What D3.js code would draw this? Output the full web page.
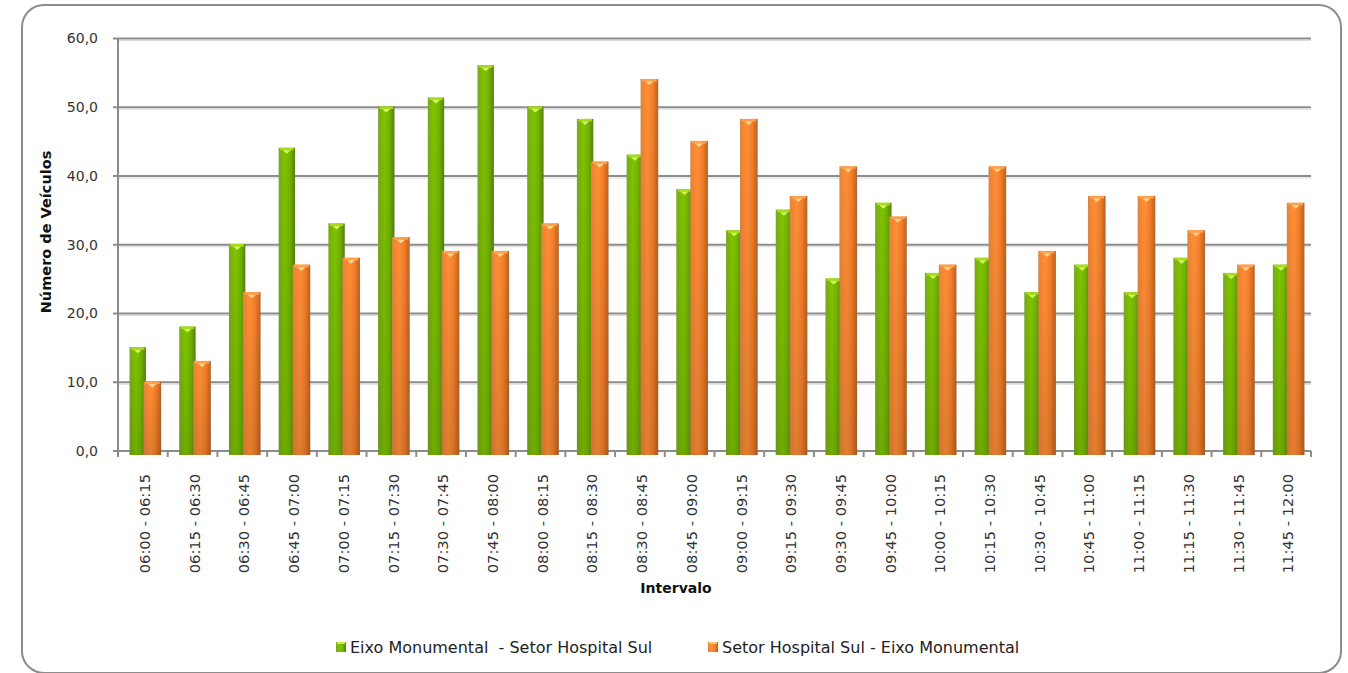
<!DOCTYPE html>
<html><head><meta charset="utf-8">
<script src="https://cdn.jsdelivr.net/npm/d3@7"></script>
<style>
html,body{margin:0;padding:0;background:#fff;}
svg{display:block;font-family:"DejaVu Sans",sans-serif;}
</style></head>
<body>
<script>
const categories = ["06:00 - 06:15","06:15 - 06:30","06:30 - 06:45","06:45 - 07:00","07:00 - 07:15","07:15 - 07:30","07:30 - 07:45","07:45 - 08:00","08:00 - 08:15","08:15 - 08:30","08:30 - 08:45","08:45 - 09:00","09:00 - 09:15","09:15 - 09:30","09:30 - 09:45","09:45 - 10:00","10:00 - 10:15","10:15 - 10:30","10:30 - 10:45","10:45 - 11:00","11:00 - 11:15","11:15 - 11:30","11:30 - 11:45","11:45 - 12:00"];
const seriesNames = ["Eixo Monumental  - Setor Hospital Sul","Setor Hospital Sul - Eixo Monumental"];
const greenValues = [15,18,30,44,33,50,51.3,56,50,48.2,43,38,32,35,25,36,25.8,28,23,27,23,28,25.8,27];
const orangeValues = [10,13,23,27,28,31,29,29,33,42,54,45,48.2,37,41.3,34,27,41.3,29,37,37,32,27,36];
const yTicks = [0,10,20,30,40,50,60];
const yTitle = "Número de Veículos";
const xTitle = "Intervalo";

const W = 1348, H = 673;
const plot = {left:118, right:1311, top:38.5, bottom:451};
const svg = d3.select("body").append("svg").attr("width",W).attr("height",H);
const defs = svg.append("defs");

function hGrad(id, stops){
  const g = defs.append("linearGradient").attr("id",id).attr("x1","0").attr("x2","1").attr("y1","0").attr("y2","0");
  stops.forEach(s=>g.append("stop").attr("offset",s[0]).attr("stop-color",s[1]));
}
hGrad("gG",[[0,"#7ea23a"],[0.12,"#78b40a"],[0.4,"#80c400"],[0.7,"#72b300"],[0.9,"#5e9200"],[1,"#5c7e24"]]);
hGrad("gO",[[0,"#cf8a55"],[0.12,"#f5852f"],[0.4,"#ff8f38"],[0.7,"#f27e2a"],[0.9,"#d2691c"],[1,"#a8683a"]]);
const vg = defs.append("linearGradient").attr("id","shade").attr("x1","0").attr("x2","0").attr("y1","0").attr("y2","1");
vg.append("stop").attr("offset",0).attr("stop-color","#000").attr("stop-opacity",0);
vg.append("stop").attr("offset",1).attr("stop-color","#000").attr("stop-opacity",0.12);

// border
svg.append("rect").attr("x",22).attr("y",5).attr("width",1319).attr("height",668)
  .attr("rx",22).attr("ry",22).attr("fill","#fff").attr("stroke","#8c8c8c").attr("stroke-width",2);

const x = d3.scaleBand().domain(categories).range([plot.left, plot.right]).paddingInner(0).paddingOuter(0);
const y = d3.scaleLinear().domain([0,60]).range([plot.bottom, plot.top]);
const bw = x.bandwidth();

// gridlines
const grid = svg.append("g");
grid.selectAll("line.sh").data(yTicks.slice(1)).join("line")
  .attr("x1",plot.left).attr("x2",plot.right).attr("y1",d=>y(d)+2).attr("y2",d=>y(d)+2)
  .attr("stroke","#dcdcdc").attr("stroke-width",1);
grid.selectAll("line.gl").data(yTicks).join("line")
  .attr("x1",plot.left-5).attr("x2",plot.right).attr("y1",d=>y(d)).attr("y2",d=>y(d))
  .attr("stroke","#8c8c8c").attr("stroke-width",2);

// bars
function drawSeries(vals, offFrac, wFrac, fillId, capCol, hiCol){
  const g = svg.append("g");
  const bx = (i)=>x(categories[i]) + bw*offFrac;
  const w = bw*wFrac;
  const data = vals.map((v,i)=>({v,i}));
  g.selectAll("rect.b").data(data).join("rect")
    .attr("x",d=>bx(d.i)).attr("y",d=>y(d.v)-0.7).attr("width",w)
    .attr("height",d=>y(0)-y(d.v)+4.7).attr("fill",`url(#${fillId})`);
  g.selectAll("rect.s").data(data).join("rect")
    .attr("x",d=>bx(d.i)).attr("y",d=>y(d.v)-0.7).attr("width",w)
    .attr("height",d=>y(0)-y(d.v)+4.7).attr("fill","url(#shade)");
  g.selectAll("rect.c").data(data).join("rect")
    .attr("x",d=>bx(d.i)+1.5).attr("y",d=>y(d.v)-0.7).attr("width",w-3)
    .attr("height",2.5).attr("fill",capCol);
  g.selectAll("path.t").data(data).join("path")
    .attr("d",d=>{const cx=bx(d.i)+w/2, ty=y(d.v)+1.8; return `M${cx-4},${ty}L${cx+4},${ty}L${cx},${ty+3.5}Z`;})
    .attr("fill",hiCol);
}
drawSeries(greenValues, 0.232, 0.33, "gG", "#a6dc1c", "#d6f560");
drawSeries(orangeValues, 0.513, 0.355, "gO", "#ffa04a", "#ffd890");

// y axis
svg.append("line").attr("x1",plot.left).attr("x2",plot.left).attr("y1",plot.top).attr("y2",plot.bottom+5)
  .attr("stroke","#8c8c8c").attr("stroke-width",2);
const fmt = d3.formatLocale({decimal:",",thousands:".",grouping:[3],currency:["",""]}).format(".1f");
const yAx = svg.append("g").attr("transform",`translate(${plot.left},0)`)
  .call(d3.axisLeft(y).tickValues(yTicks).tickSize(0).tickPadding(20).tickFormat(fmt));
yAx.select(".domain").remove();
yAx.selectAll("text").attr("font-size",14).attr("fill","#333").attr("font-family","DejaVu Sans");

// x ticks at boundaries
const bounds = categories.map(c=>x(c)).concat([plot.right]);
svg.append("g").selectAll("line").data(bounds).join("line")
  .attr("x1",d=>d).attr("x2",d=>d).attr("y1",plot.bottom).attr("y2",plot.bottom+6)
  .attr("stroke","#8c8c8c").attr("stroke-width",2);

const xAx = svg.append("g").attr("transform",`translate(0,${plot.bottom})`)
  .call(d3.axisBottom(x).tickSize(0).tickPadding(0));
xAx.select(".domain").remove();
xAx.selectAll("text")
  .attr("transform","rotate(-90)")
  .attr("text-anchor","end")
  .attr("x",-23).attr("y",2).attr("dy","0.35em")
  .attr("font-size",14.7).attr("fill","#333").attr("font-family","DejaVu Sans");

// axis titles
svg.append("text").attr("transform",`translate(51,232) rotate(-90)`).attr("text-anchor","middle")
  .attr("font-weight","bold").attr("font-size",14.5).attr("fill","#111").text(yTitle);
svg.append("text").attr("x",676).attr("y",593).attr("text-anchor","middle")
  .attr("font-weight","bold").attr("font-size",14).attr("fill","#111").text(xTitle);

// legend
const legX = [336, 708];
const legFill = ["gG","gO"];
const leg = svg.append("g");
seriesNames.forEach((n,i)=>{
  leg.append("rect").attr("x",legX[i]).attr("y",642).attr("width",10).attr("height",10).attr("fill",`url(#${legFill[i]})`);
  leg.append("rect").attr("x",legX[i]+1).attr("y",642).attr("width",8).attr("height",2).attr("fill",i?"#ffc070":"#c8f040");
  leg.append("text").attr("x",legX[i]+14).attr("y",653).attr("font-size",16).attr("fill","#222")
    .attr("xml:space","preserve").style("white-space","pre").text(n);
});
</script>
</body></html>
